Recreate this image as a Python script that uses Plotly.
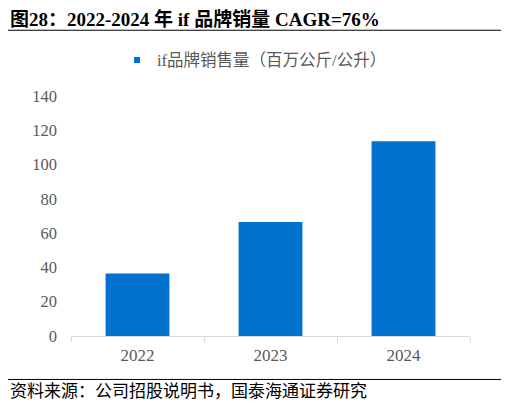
import plotly.graph_objects as go

# data
years = ['2022', '2023', '2024']
sales = [36.4, 66.5, 113.6]
series_name = 'if品牌销售量（百万公斤/公升）'
title_text = '图28：2022-2024 年 if 品牌销量 CAGR=76%'
source_text = '资料来源：公司招股说明书，国泰海通证券研究'

serif = 'Liberation Serif, Noto Sans CJK SC'
blue = '#0173CF'

fig = go.Figure(go.Bar(
    x=years,
    y=sales,
    name=series_name,
    marker=dict(color=blue, line=dict(width=0)),
    width=0.48,
    showlegend=False,
))

# small square legend key
fig.add_trace(go.Scatter(
    x=[None], y=[None], mode='markers', name=series_name,
    marker=dict(symbol='square', size=6, color=blue),
    showlegend=True,
))

# page body has an 8px margin, so the figure is a bit smaller than the window
fig.update_layout(
    width=501,
    height=398,
    margin=dict(l=63, r=39, t=88, b=70, autoexpand=False),
    plot_bgcolor='white',
    paper_bgcolor='white',
    font=dict(family=serif, size=14, color='#595959'),
    legend=dict(
        orientation='h', x=0.46, xanchor='center', y=1.149, yanchor='middle',
        font=dict(size=16.5, color='#595959', family=serif),
        itemwidth=30,
    ),
    xaxis=dict(
        showline=True, linecolor='#d9d9d9', linewidth=1,
        ticks='outside', tickson='boundaries', ticklen=5, tickcolor='#d9d9d9',
        tickfont=dict(size=17, color='#595959'), ticklabelstandoff=4,
    ),
    yaxis=dict(
        range=[0, 140], dtick=20, showgrid=False, zeroline=False,
        tickfont=dict(size=16.5, color='#595959'), ticklabelstandoff=13,
    ),
    shapes=[
        dict(type='line', xref='paper', yref='paper', x0=-0.16, x1=1.083,
             y0=1.274, y1=1.274, line=dict(color='black', width=1)),
        dict(type='line', xref='paper', yref='paper', x0=-0.16, x1=1.083,
             y0=-0.181, y1=-0.181, line=dict(color='black', width=1)),
    ],
    annotations=[
        dict(text='<b>' + title_text + '</b>', xref='paper', yref='paper',
             x=-0.158, y=1.322, xanchor='left', yanchor='middle', showarrow=False,
             font=dict(size=19, color='black', family=serif)),
        dict(text=source_text, xref='paper', yref='paper',
             x=-0.158, y=-0.233, xanchor='left', yanchor='middle', showarrow=False,
             font=dict(size=17, color='black', family=serif)),
    ],
)

fig.write_html('out.html')
